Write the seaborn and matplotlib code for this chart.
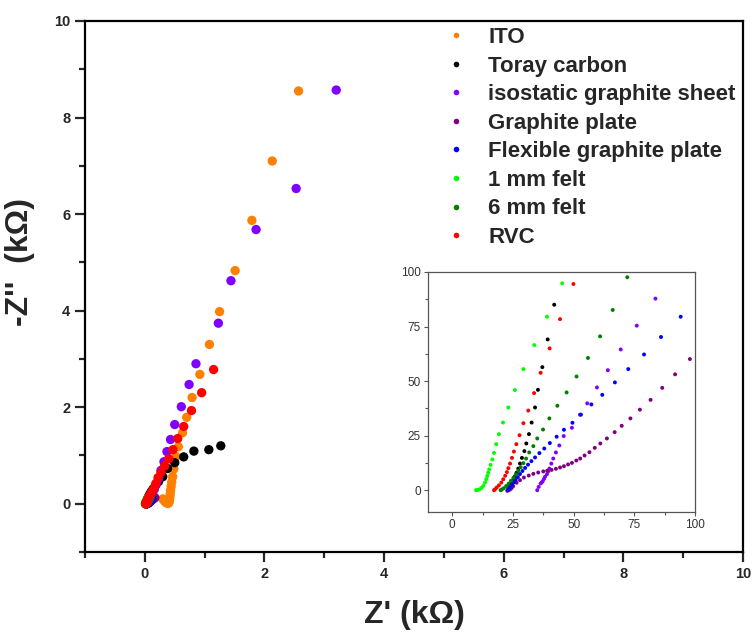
import numpy as np
import pandas as pd
import matplotlib
matplotlib.use("Agg")
import matplotlib.pyplot as plt
from matplotlib.ticker import MultipleLocator
import seaborn as sns

# ---------------- data (Ohm) ----------------
series_names = ["ITO", "Toray carbon", "isostatic graphite sheet", "Graphite plate",
                "Flexible graphite plate", "1 mm felt", "6 mm felt", "RVC"]
series_colors = ["#ff8000", "#000000", "#8000ff", "#800080",
                 "#0000ff", "#00ff00", "#008000", "#ff0000"]

ito_zre = [300, 320, 340, 360, 380, 395, 405, 410, 415, 420, 425, 430, 440, 450, 465, 485,
           520, 560, 630, 700, 790, 920, 1080, 1250, 1510, 1790, 2130, 2570]
ito_zim = [100, 70, 40, 20, 10, 10, 30, 60, 100, 150, 210, 280, 360, 450, 560, 720,
           980, 1180, 1470, 1790, 2200, 2680, 3300, 3980, 4830, 5870, 7100, 8550]

toray_zre = [22.8, 23.1, 23.6, 24.3, 25.0, 25.8, 26.5, 27.2, 27.9, 28.7, 29.7, 30.5, 31.6, 32.7,
             34.1, 35.3, 37.1, 39.3, 42.0, 48, 56, 68, 85, 108, 140, 180, 230, 300, 380, 500,
             650, 820, 1070, 1270]
toray_zim = [0.0, 0.5, 1.6, 3.0, 4.6, 6.3, 8.0, 9.9, 12.2, 14.8, 17.9, 21.4, 25.7, 31.0,
             37.9, 46.0, 56.4, 69.1, 85.0, 105, 130, 160, 200, 250, 310, 380, 460, 560, 730, 850,
             970, 1090, 1120, 1200]

iso_zre = [35.0, 35.6, 36.4, 36.9, 37.3, 37.8, 38.2, 39.0, 39.5, 40.0, 40.8, 41.6, 42.7, 44.1,
           45.9, 49.3, 52.6, 55.6, 59.6, 64.1, 69.4, 76.0, 83.7, 95, 110, 130, 160, 190, 230,
           270, 320, 370, 430, 500, 610, 740, 855, 1230, 1440, 1860, 2530, 3200]
iso_zim = [0.0, 1.5, 3.1, 3.6, 4.2, 5.2, 6.1, 7.3, 8.6, 9.9, 12.2, 14.5, 17.3, 20.5,
           24.8, 28.6, 34.6, 39.8, 47.1, 55.0, 64.5, 75.4, 87.8, 110, 150, 210, 300, 400, 520,
           690, 870, 1080, 1330, 1640, 2010, 2470, 2900, 3740, 4620, 5680, 6530, 8570]

gplate_zre = [22.7, 23.2, 23.8, 24.4, 25.1, 26.5, 27.9, 29.5, 31.5, 33.4, 35.4, 37.5, 39.1, 40.9,
              42.7, 44.4, 46.0, 47.7, 49.3, 51.1, 52.7, 54.5, 56.5, 58.7, 61.0, 63.7, 66.9, 69.8,
              73.4, 77.3, 81.7, 86.5, 91.8, 97.9, 104, 111, 119, 128, 139, 152, 167]
gplate_zim = [-0.3, 0.0, 0.3, 0.9, 1.8, 3.4, 4.6, 5.8, 6.7, 7.5, 8.1, 8.6, 8.9, 9.3,
              9.8, 10.4, 11.0, 11.8, 12.5, 13.6, 14.5, 15.9, 17.4, 19.4, 21.4, 23.7, 26.6, 29.5,
              32.9, 36.9, 41.4, 46.9, 53.1, 60.1, 66, 73, 81, 90, 100, 112, 126]

flex_zre = [23.0, 23.3, 23.8, 24.5, 25.3, 26.1, 27.0, 27.9, 28.9, 30.0, 31.2, 32.6, 34.1, 35.9,
            37.9, 40.2, 43.0, 46.0, 49.5, 53.0, 57.3, 61.8, 67.0, 72.5, 79.0, 86.0, 94.1, 103, 113]
flex_zim = [0.1, 0.6, 1.4, 2.4, 3.5, 4.7, 6.0, 7.4, 8.8, 10.2, 11.7, 13.3, 15.0, 17.0,
            19.1, 21.6, 24.5, 27.7, 30.9, 34.6, 39.3, 43.7, 49.4, 55.5, 62.2, 70.2, 79.5, 90, 101]

felt1_zre = [9.8, 10.4, 11.2, 12.0, 12.8, 13.5, 14.0, 14.4, 14.8, 15.2, 15.8, 16.5, 17.2, 18.1,
             19.2, 20.9, 23.1, 25.8, 29.3, 33.8, 39.0, 45.3, 52, 60]
felt1_zim = [0.0, 0.1, 0.4, 1.0, 2.0, 3.5, 5.0, 6.5, 8.0, 9.5, 11.6, 14.1, 17.1, 21.1,
             25.7, 31.0, 37.9, 45.9, 55.5, 66.5, 79.5, 94.8, 112, 130]

felt6_zre = [19.9, 20.4, 21.2, 22.2, 23.2, 24.2, 25.2, 26.2, 27.2, 28.2, 29.3, 30.4, 31.7, 33.4,
             35.0, 37.4, 40.0, 43.3, 47.1, 51.2, 55.9, 60.9, 66.1, 72.1, 80, 90]
felt6_zim = [0.0, 0.3, 0.9, 1.9, 3.0, 4.3, 5.7, 7.2, 8.8, 10.5, 12.4, 14.5, 17.3, 20.2,
             23.7, 27.8, 32.9, 38.7, 44.8, 52.1, 60.6, 70.5, 82.6, 97.6, 112, 130]

rvc_zre = [17.2, 17.6, 18.3, 19.2, 20.2, 21.0, 21.8, 22.5, 23.1, 23.8, 24.6, 25.4, 26.4, 27.7,
           29.3, 31.3, 33.7, 36.4, 40.1, 44.4, 49.9, 60, 75, 95, 120, 150, 185, 220, 270, 330,
           400, 470, 550, 650, 780, 950, 1150]
rvc_zim = [0.0, 0.4, 1.2, 2.2, 3.5, 5.0, 6.6, 8.3, 10.1, 12.2, 14.8, 17.7, 21.1, 25.2,
           30.7, 36.5, 44.5, 53.8, 65.0, 78.4, 94.5, 115, 150, 195, 250, 320, 420, 540, 650, 780,
           930, 1120, 1350, 1600, 1930, 2300, 2780]

main_xticks = [0, 2, 4, 6, 8, 10]
main_yticks = [0, 2, 4, 6, 8, 10]
inset_ticks = [0, 25, 50, 75, 100]

all_zre = [ito_zre, toray_zre, iso_zre, gplate_zre, flex_zre, felt1_zre, felt6_zre, rvc_zre]
all_zim = [ito_zim, toray_zim, iso_zim, gplate_zim, flex_zim, felt1_zim, felt6_zim, rvc_zim]

frames = []
for name, zr, zi in zip(series_names, all_zre, all_zim):
    frames.append(pd.DataFrame({"Zre": zr, "Zim": zi, "sample": name}))
df = pd.concat(frames, ignore_index=True)
df["Zre_k"] = df["Zre"] / 1000.0
df["Zim_k"] = df["Zim"] / 1000.0
palette = dict(zip(series_names, series_colors))

# ---------------- figure ----------------
sns.set_style("ticks")
plt.rcParams["font.family"] = ["Liberation Sans", "DejaVu Sans"]

fig = plt.figure(figsize=(7.54, 6.35), dpi=100)
W, H = 754, 635
ax = fig.add_axes([85 / W, 1 - 552 / H, (743 - 85) / W, (552 - 21) / H])

sns.scatterplot(data=df, x="Zre_k", y="Zim_k", hue="sample", hue_order=series_names,
                palette=palette, s=45, edgecolor="none", linewidth=0, ax=ax)

ax.set_xlim(-1, 10)
ax.set_ylim(-1, 10)
ax.set_xticks(main_xticks)
ax.set_yticks(main_yticks)
ax.xaxis.set_minor_locator(MultipleLocator(1))
ax.yaxis.set_minor_locator(MultipleLocator(1))
for s in ax.spines.values():
    s.set_linewidth(1.6)
    s.set_color("black")
ax.tick_params(which="major", direction="out", length=7, width=1.6, labelsize=10.5,
               top=False, right=False)
ax.tick_params(which="minor", direction="out", length=4.5, width=1.6, top=False, right=False)
for lab in ax.get_xticklabels() + ax.get_yticklabels():
    lab.set_fontweight("bold")
ax.set_xlabel("Z' (k\u03a9)", fontsize=23, fontweight="bold", labelpad=14)
ax.set_ylabel("-Z''  (k\u03a9)", fontsize=23, fontweight="bold")
ax.yaxis.set_label_coords(-0.076, 0.546)

handles, labels = ax.get_legend_handles_labels()
ax.legend(handles=handles, labels=labels, loc="upper left",
          bbox_to_anchor=(445 / W, 1 - 27 / H), bbox_transform=fig.transFigure,
          frameon=False, borderpad=0, borderaxespad=0, handlelength=1.0,
          handletextpad=0.95, labelspacing=0.34, markerscale=0.6,
          prop={"family": "Liberation Sans", "weight": "bold", "size": 16})

# ---------------- inset ----------------
axin = fig.add_axes([428 / W, 1 - 512 / H, (695 - 428) / W, (512 - 272) / H])
sns.scatterplot(data=df, x="Zre", y="Zim", hue="sample", hue_order=series_names,
                palette=palette, s=8, edgecolor="none", linewidth=0, legend=False, ax=axin)
axin.set_xlim(-10, 100)
axin.set_ylim(-10, 100)
axin.set_xticks(inset_ticks)
axin.set_yticks(inset_ticks)
axin.xaxis.set_minor_locator(MultipleLocator(12.5))
axin.yaxis.set_minor_locator(MultipleLocator(12.5))
axin.set_xlabel("")
axin.set_ylabel("")
for s in axin.spines.values():
    s.set_linewidth(0.9)
    s.set_color("#555555")
axin.tick_params(which="major", direction="out", length=3, width=0.8, colors="#555555",
                 labelsize=8.5, labelcolor="#333333", pad=2)
axin.tick_params(which="minor", direction="out", length=2, width=0.8, colors="#555555")

fig.savefig("out.png", dpi=100)
